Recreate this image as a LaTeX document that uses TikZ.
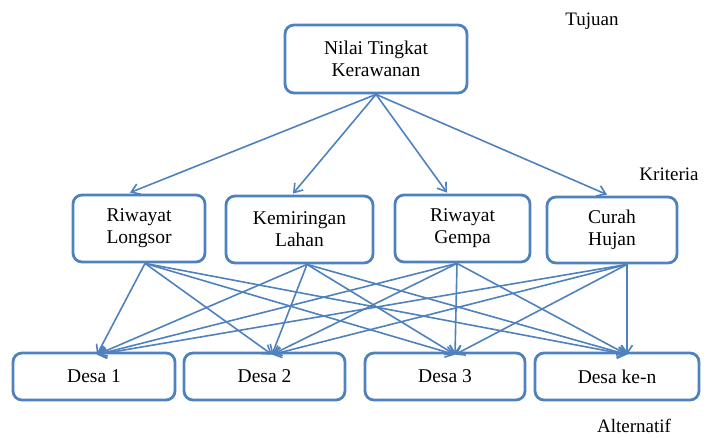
\documentclass[tikz,border=0pt]{standalone}
\usepackage{fontspec}
\setmainfont{Liberation Serif}
\usetikzlibrary{arrows.meta}
\definecolor{boxblue}{HTML}{4F81BD}
\tikzset{
  box/.style={draw=boxblue, line width=2.8pt, rounded corners=9pt, align=center,
     font=\fontsize{19.5}{22}\selectfont, inner sep=0pt},
  lbl/.style={font=\fontsize{19}{22}\selectfont, inner sep=0pt},
  arr/.style={draw=boxblue, line width=1.6pt, -{Straight Barb[length=8pt,width=11pt,line width=1.6pt]}},
}
\begin{document}
\begin{tikzpicture}[x=1pt,y=-1pt]
\useasboundingbox (0,0) rectangle (708,437);
\node[box, minimum width=182pt, minimum height=68pt] (top) at (376,59) {Nilai Tingkat\\Kerawanan};
\node[box, minimum width=132pt, minimum height=67pt] (rl) at (139,228.5) {Riwayat\\Longsor};
\node[box, minimum width=147pt, minimum height=67pt] (kl) at (299.5,229.5) {Kemiringan\\Lahan};
\node[box, minimum width=135pt, minimum height=67pt] (rg) at (462.5,228.5) {Riwayat\\Gempa};
\node[box, minimum width=130pt, minimum height=66pt] (ch) at (612,230) {Curah\\Hujan};
\node[box, minimum width=162pt, minimum height=47pt] (d1) at (94,376.5) {Desa 1};
\node[box, minimum width=161pt, minimum height=47pt] (d2) at (264.5,376.5) {Desa 2};
\node[box, minimum width=160pt, minimum height=47pt] (d3) at (445,376.5) {Desa 3};
\node[box, minimum width=164pt, minimum height=47pt] (dn) at (617,376.5) {Desa ke-n};
\node[lbl] (tujuan) at (592,21) {Tujuan};
\node[lbl] (kriteria) at (669,174) {Kriteria};
\node[lbl] (alt) at (634,426) {Alternatif};
% top to criteria
\draw[arr] (top.south) -- ([xshift=-9pt,yshift=1pt]rl.north);
\draw[arr] (top.south) -- ([xshift=-6.5pt,yshift=1pt]kl.north);
\draw[arr] (top.south) -- ([xshift=-15.5pt,yshift=1pt]rg.north);
\draw[arr] (top.south) -- ([xshift=-5pt,yshift=1pt]ch.north);
% criteria to alternatives
\foreach \s/\sx in {rl/6, kl/7.5, rg/-5.5, ch/15} {
  \foreach \t/\tx in {d1/3, d2/7.5, d3/10, dn/10} {
    \draw[arr] ([xshift=\sx pt]\s.south) -- ([xshift=\tx pt,yshift=-3pt]\t.north);
  }
}
\end{tikzpicture}
\end{document}
